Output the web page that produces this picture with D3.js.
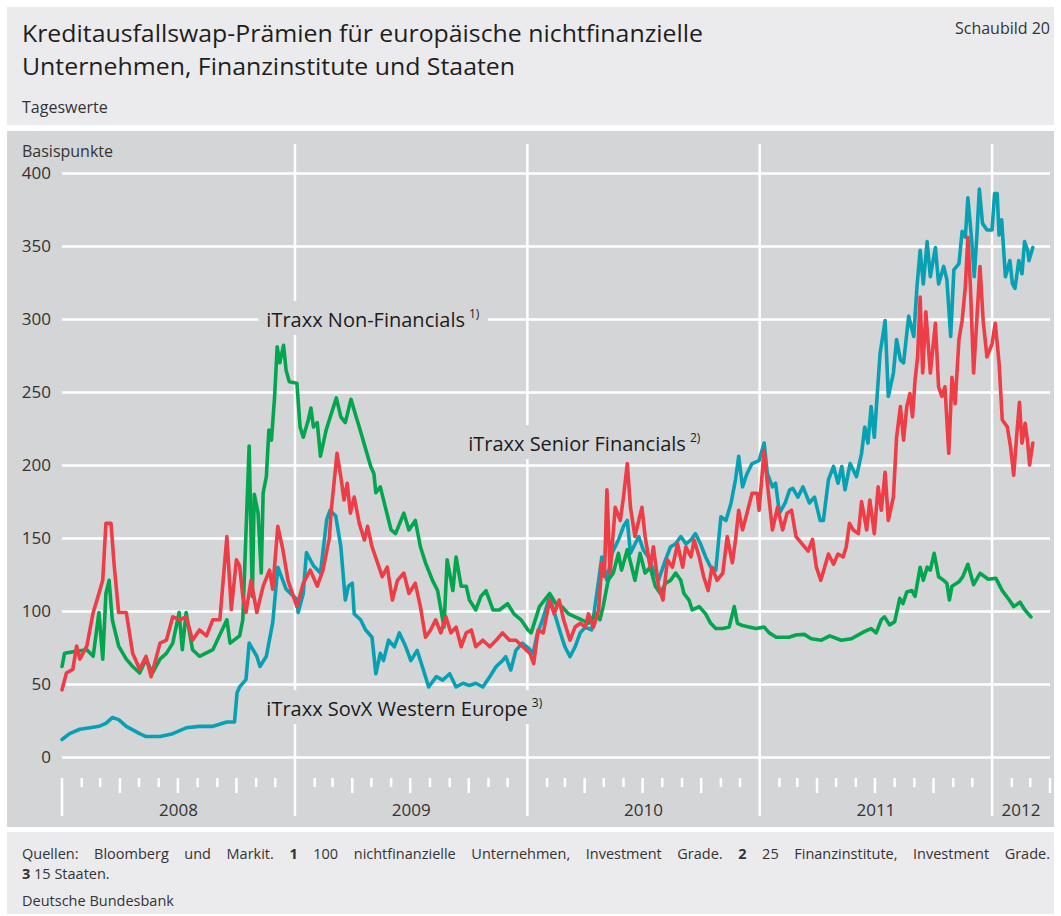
<!DOCTYPE html>
<html>
<head>
<meta charset="utf-8">
<script src="https://cdn.jsdelivr.net/npm/d3@7"></script>
<style>
  body { margin: 0; background: #fff; }
  text { font-family: "Open Sans", "Noto Sans", sans-serif; }
</style>
</head>
<body>
<div id="chart"></div>
<script>
// iTraxx SovX Western Europe (Basispunkte)
const sovx = [
  ["2008-01-01", 12], ["2008-01-13", 16], ["2008-01-29", 19], ["2008-02-14", 20], ["2008-02-28", 21],
  ["2008-03-10", 23], ["2008-03-20", 27], ["2008-03-30", 25.6], ["2008-04-11", 21], ["2008-05-02", 16],
  ["2008-05-12", 14], ["2008-06-03", 14], ["2008-06-23", 16], ["2008-07-14", 20], ["2008-08-04", 21],
  ["2008-08-25", 21], ["2008-09-16", 24], ["2008-09-28", 24], ["2008-10-02", 44], ["2008-10-06", 48],
  ["2008-10-16", 53], ["2008-10-21", 78], ["2008-11-02", 69], ["2008-11-07", 62], ["2008-11-17", 69],
  ["2008-11-27", 92], ["2008-12-05", 130], ["2008-12-18", 115], ["2009-01-04", 108], ["2009-01-06", 99],
  ["2009-01-14", 112], ["2009-01-19", 140], ["2009-01-30", 131], ["2009-02-10", 126], ["2009-02-20", 163],
  ["2009-02-25", 169], ["2009-03-06", 165], ["2009-03-14", 144], ["2009-03-21", 107.5], ["2009-03-26", 117],
  ["2009-04-01", 119], ["2009-04-04", 98], ["2009-04-14", 94], ["2009-04-22", 87], ["2009-05-02", 82],
  ["2009-05-08", 57], ["2009-05-15", 71], ["2009-05-20", 66], ["2009-05-28", 80], ["2009-06-06", 75.5],
  ["2009-06-14", 85], ["2009-06-24", 75.5], ["2009-07-02", 66], ["2009-07-12", 73], ["2009-07-20", 62],
  ["2009-07-30", 48], ["2009-08-11", 55], ["2009-08-21", 52.7], ["2009-09-01", 57], ["2009-09-11", 48],
  ["2009-09-22", 50.5], ["2009-10-02", 49], ["2009-10-12", 50.5], ["2009-10-23", 48], ["2009-11-03", 55],
  ["2009-11-13", 62], ["2009-11-23", 66], ["2009-11-28", 68.7], ["2009-12-06", 59.6], ["2009-12-14", 73],
  ["2009-12-24", 78], ["2010-01-04", 74], ["2010-01-10", 71], ["2010-01-17", 85], ["2010-01-25", 94],
  ["2010-02-05", 110], ["2010-02-13", 98], ["2010-02-22", 85], ["2010-03-01", 75.5], ["2010-03-09", 68.7],
  ["2010-03-17", 75.5], ["2010-03-25", 85], ["2010-04-02", 89], ["2010-04-12", 87], ["2010-04-23", 121],
  ["2010-04-28", 137], ["2010-05-06", 121], ["2010-05-14", 139.5], ["2010-05-24", 148.6], ["2010-06-01", 158],
  ["2010-06-07", 162], ["2010-06-12", 139.5], ["2010-06-17", 144], ["2010-06-25", 151], ["2010-07-02", 142],
  ["2010-07-10", 137], ["2010-07-18", 128], ["2010-07-26", 121], ["2010-08-06", 135], ["2010-08-14", 144],
  ["2010-08-22", 146], ["2010-08-30", 151], ["2010-09-07", 146], ["2010-09-15", 148.6], ["2010-09-22", 153],
  ["2010-09-30", 146], ["2010-10-08", 137], ["2010-10-16", 130], ["2010-10-24", 128], ["2010-11-01", 164.5],
  ["2010-11-09", 162], ["2010-11-17", 174], ["2010-11-24", 190], ["2010-11-29", 206], ["2010-12-05", 185],
  ["2010-12-12", 194], ["2010-12-20", 201], ["2010-12-31", 203], ["2011-01-08", 215], ["2011-01-13", 194],
  ["2011-01-21", 185], ["2011-01-26", 187.5], ["2011-02-01", 167], ["2011-02-10", 174], ["2011-02-17", 183],
  ["2011-02-22", 184], ["2011-03-02", 178], ["2011-03-10", 185], ["2011-03-20", 174], ["2011-03-28", 178],
  ["2011-04-06", 162], ["2011-04-11", 162], ["2011-04-19", 190], ["2011-04-27", 199], ["2011-05-04", 187.5],
  ["2011-05-10", 199], ["2011-05-15", 183], ["2011-05-23", 201], ["2011-06-02", 192], ["2011-06-10", 208],
  ["2011-06-15", 226], ["2011-06-20", 215], ["2011-06-25", 240], ["2011-06-30", 219], ["2011-07-09", 276],
  ["2011-07-17", 299], ["2011-07-22", 247], ["2011-07-30", 263], ["2011-08-04", 286], ["2011-08-10", 272],
  ["2011-08-15", 270], ["2011-08-23", 302], ["2011-08-31", 288], ["2011-09-05", 322], ["2011-09-10", 347],
  ["2011-09-15", 324], ["2011-09-21", 353], ["2011-09-26", 329], ["2011-10-04", 349], ["2011-10-09", 324],
  ["2011-10-17", 336], ["2011-10-22", 327], ["2011-10-28", 288], ["2011-11-02", 333.6], ["2011-11-10", 338],
  ["2011-11-15", 360], ["2011-11-20", 356], ["2011-11-24", 383], ["2011-11-30", 354], ["2011-12-04", 329],
  ["2011-12-08", 356], ["2011-12-12", 389], ["2011-12-17", 365.5], ["2011-12-24", 361], ["2012-01-01", 361],
  ["2012-01-05", 386], ["2012-01-09", 386], ["2012-01-12", 357.5], ["2012-01-16", 368], ["2012-01-22", 329],
  ["2012-01-29", 340], ["2012-02-02", 324], ["2012-02-06", 321], ["2012-02-12", 340], ["2012-02-17", 331],
  ["2012-02-21", 353], ["2012-02-26", 347], ["2012-02-28", 340], ["2012-03-05", 349]
];

// iTraxx Non-Financials
const nonFinancials = [
  ["2008-01-01", 62], ["2008-01-05", 71], ["2008-01-18", 72], ["2008-02-09", 73.5], ["2008-02-19", 69],
  ["2008-02-28", 99], ["2008-03-05", 67], ["2008-03-10", 112], ["2008-03-15", 121], ["2008-03-20", 94],
  ["2008-03-30", 76], ["2008-04-11", 67], ["2008-04-21", 62], ["2008-05-02", 57.5], ["2008-05-12", 67],
  ["2008-05-22", 57.5], ["2008-06-03", 67], ["2008-06-13", 71], ["2008-06-23", 78], ["2008-07-03", 99],
  ["2008-07-08", 73.5], ["2008-07-14", 99], ["2008-07-24", 73.5], ["2008-08-04", 69], ["2008-08-25", 73.5],
  ["2008-09-16", 94], ["2008-09-21", 78], ["2008-10-06", 83], ["2008-10-11", 94], ["2008-10-21", 213],
  ["2008-10-26", 110], ["2008-10-29", 180], ["2008-11-04", 167], ["2008-11-09", 126], ["2008-11-12", 181],
  ["2008-11-17", 192], ["2008-11-21", 224], ["2008-11-25", 217], ["2008-11-30", 247], ["2008-12-04", 281],
  ["2008-12-08", 270], ["2008-12-14", 282], ["2008-12-18", 265], ["2008-12-23", 257], ["2009-01-04", 256],
  ["2009-01-09", 226], ["2009-01-14", 219], ["2009-01-22", 231], ["2009-01-26", 239], ["2009-01-30", 226],
  ["2009-02-05", 229], ["2009-02-10", 206], ["2009-02-19", 224], ["2009-02-24", 231], ["2009-03-07", 246],
  ["2009-03-14", 233], ["2009-03-21", 229], ["2009-03-30", 245], ["2009-04-07", 233], ["2009-04-12", 226],
  ["2009-04-22", 211], ["2009-04-30", 199], ["2009-05-05", 194], ["2009-05-08", 181], ["2009-05-15", 185],
  ["2009-05-23", 171], ["2009-06-01", 155.5], ["2009-06-08", 153], ["2009-06-21", 167], ["2009-06-29", 155.5],
  ["2009-07-09", 162], ["2009-07-17", 144], ["2009-07-25", 133], ["2009-08-05", 121], ["2009-08-13", 114],
  ["2009-08-23", 89], ["2009-08-28", 135], ["2009-09-06", 114], ["2009-09-11", 137], ["2009-09-19", 117],
  ["2009-09-27", 117], ["2009-10-02", 107.5], ["2009-10-12", 100.7], ["2009-10-20", 110], ["2009-10-28", 114],
  ["2009-11-08", 100.7], ["2009-11-18", 100.7], ["2009-12-01", 105], ["2009-12-11", 98], ["2009-12-22", 94],
  ["2010-01-02", 87], ["2010-01-07", 85], ["2010-01-20", 103], ["2010-02-05", 112], ["2010-02-15", 105],
  ["2010-02-24", 103], ["2010-03-07", 98], ["2010-03-17", 96], ["2010-03-27", 94], ["2010-04-07", 91.6],
  ["2010-04-18", 98], ["2010-04-25", 94], ["2010-04-30", 103], ["2010-05-08", 121], ["2010-05-16", 126],
  ["2010-05-24", 139.5], ["2010-05-29", 128], ["2010-06-07", 142], ["2010-06-14", 130], ["2010-06-19", 121],
  ["2010-06-27", 139.5], ["2010-07-05", 126], ["2010-07-13", 130], ["2010-07-21", 117], ["2010-07-29", 112],
  ["2010-08-06", 119], ["2010-08-14", 121], ["2010-08-22", 126], ["2010-08-30", 121], ["2010-09-04", 112],
  ["2010-09-12", 107.5], ["2010-09-17", 100.7], ["2010-09-28", 103], ["2010-10-08", 98], ["2010-10-16", 91.6],
  ["2010-10-24", 88], ["2010-11-04", 88], ["2010-11-14", 89], ["2010-11-22", 103], ["2010-11-27", 91.6],
  ["2010-12-05", 90], ["2010-12-15", 89], ["2010-12-26", 88], ["2011-01-08", 89], ["2011-01-16", 85],
  ["2011-01-27", 82], ["2011-02-06", 82], ["2011-02-16", 82], ["2011-02-27", 83.6], ["2011-03-12", 84],
  ["2011-03-23", 81], ["2011-04-08", 80], ["2011-04-21", 83], ["2011-05-09", 80], ["2011-05-25", 81],
  ["2011-06-05", 83.6], ["2011-06-15", 86], ["2011-06-25", 88], ["2011-07-03", 85], ["2011-07-11", 94],
  ["2011-07-16", 96], ["2011-07-24", 90.5], ["2011-08-01", 92.7], ["2011-08-09", 108.7], ["2011-08-14", 105],
  ["2011-08-20", 113], ["2011-08-28", 114], ["2011-09-02", 110], ["2011-09-10", 130], ["2011-09-15", 121],
  ["2011-09-21", 130], ["2011-09-26", 128], ["2011-10-02", 139.5], ["2011-10-09", 123.5], ["2011-10-17", 121],
  ["2011-10-22", 119], ["2011-10-26", 107.5], ["2011-10-30", 117], ["2011-11-10", 120], ["2011-11-16", 123.5],
  ["2011-11-24", 132], ["2011-12-03", 118], ["2011-12-13", 125.8], ["2011-12-26", 121.7], ["2012-01-07", 122.4],
  ["2012-01-17", 114], ["2012-01-28", 107.5], ["2012-02-04", 103], ["2012-02-14", 106], ["2012-02-21", 101],
  ["2012-03-02", 96]
];

// iTraxx Senior Financials
const seniorFinancials = [
  ["2008-01-01", 46], ["2008-01-08", 57.5], ["2008-01-18", 60], ["2008-01-24", 76], ["2008-01-29", 67],
  ["2008-02-09", 76], ["2008-02-19", 99], ["2008-02-28", 112], ["2008-03-05", 121], ["2008-03-10", 160],
  ["2008-03-18", 160], ["2008-03-23", 131], ["2008-03-30", 99], ["2008-04-11", 99], ["2008-04-21", 71],
  ["2008-05-02", 60], ["2008-05-12", 69], ["2008-05-20", 55], ["2008-06-03", 78], ["2008-06-13", 80],
  ["2008-06-23", 96], ["2008-07-04", 94], ["2008-07-14", 96], ["2008-07-24", 80], ["2008-08-04", 87],
  ["2008-08-15", 83], ["2008-08-25", 94], ["2008-09-05", 94], ["2008-09-16", 151], ["2008-09-23", 101],
  ["2008-10-01", 135], ["2008-10-06", 131], ["2008-10-11", 110], ["2008-10-16", 99], ["2008-10-24", 121],
  ["2008-11-02", 99], ["2008-11-12", 117], ["2008-11-22", 128], ["2008-11-27", 115], ["2008-12-05", 158],
  ["2008-12-13", 142], ["2008-12-21", 121], ["2009-01-04", 103], ["2009-01-14", 119], ["2009-01-25", 128],
  ["2009-02-05", 117], ["2009-02-14", 128], ["2009-02-24", 150], ["2009-02-27", 169], ["2009-03-08", 208],
  ["2009-03-14", 192], ["2009-03-19", 176], ["2009-03-24", 187.5], ["2009-03-29", 167], ["2009-04-04", 178],
  ["2009-04-12", 160], ["2009-04-20", 148.6], ["2009-04-25", 158], ["2009-05-02", 144], ["2009-05-13", 130],
  ["2009-05-18", 123.5], ["2009-05-26", 130], ["2009-06-03", 107.5], ["2009-06-11", 121], ["2009-06-21", 126],
  ["2009-06-29", 112], ["2009-07-09", 119], ["2009-07-17", 103], ["2009-07-25", 82], ["2009-08-02", 87],
  ["2009-08-10", 94], ["2009-08-18", 85], ["2009-08-26", 96], ["2009-09-03", 85], ["2009-09-11", 89],
  ["2009-09-19", 75.5], ["2009-09-27", 85], ["2009-10-05", 87], ["2009-10-12", 75.5], ["2009-10-23", 80],
  ["2009-11-03", 75.5], ["2009-11-13", 80], ["2009-11-23", 85], ["2009-12-04", 80], ["2009-12-14", 80],
  ["2009-12-25", 75.5], ["2010-01-05", 71], ["2010-01-11", 64], ["2010-01-18", 87], ["2010-01-26", 85],
  ["2010-02-05", 107.5], ["2010-02-12", 98], ["2010-02-20", 107.5], ["2010-02-27", 94], ["2010-03-09", 80],
  ["2010-03-17", 89], ["2010-03-25", 91.6], ["2010-04-02", 89], ["2010-04-07", 98], ["2010-04-15", 89],
  ["2010-04-23", 100.7], ["2010-04-28", 133], ["2010-05-02", 123.5], ["2010-05-06", 183], ["2010-05-11", 126],
  ["2010-05-19", 171], ["2010-05-27", 162], ["2010-06-01", 178], ["2010-06-07", 201], ["2010-06-12", 171],
  ["2010-06-19", 151], ["2010-06-25", 162], ["2010-06-30", 171], ["2010-07-05", 151], ["2010-07-13", 130],
  ["2010-07-18", 144], ["2010-07-26", 117], ["2010-08-02", 107.5], ["2010-08-09", 135], ["2010-08-17", 130],
  ["2010-08-25", 146], ["2010-09-02", 130], ["2010-09-07", 144], ["2010-09-15", 137], ["2010-09-20", 148.6],
  ["2010-09-28", 137], ["2010-10-05", 123.5], ["2010-10-12", 114], ["2010-10-18", 130], ["2010-10-26", 121],
  ["2010-11-04", 126], ["2010-11-11", 151], ["2010-11-19", 133], ["2010-11-24", 148.6], ["2010-11-29", 169],
  ["2010-12-05", 155.5], ["2010-12-12", 167], ["2010-12-20", 180.6], ["2010-12-28", 180.6], ["2010-12-31", 169],
  ["2011-01-08", 210], ["2011-01-13", 187.5], ["2011-01-21", 155.5], ["2011-01-29", 171], ["2011-02-06", 155.5],
  ["2011-02-13", 167], ["2011-02-20", 169], ["2011-02-27", 151], ["2011-03-18", 141], ["2011-03-25", 149],
  ["2011-03-31", 130], ["2011-04-07", 121], ["2011-04-13", 130], ["2011-04-19", 139], ["2011-04-27", 132],
  ["2011-05-04", 139], ["2011-05-12", 137], ["2011-05-17", 144], ["2011-05-22", 160], ["2011-05-28", 155.5],
  ["2011-06-05", 153], ["2011-06-10", 175], ["2011-06-18", 155.5], ["2011-06-23", 176], ["2011-06-30", 153],
  ["2011-07-06", 185], ["2011-07-11", 169], ["2011-07-17", 195], ["2011-07-22", 162], ["2011-07-30", 178],
  ["2011-08-04", 219], ["2011-08-10", 240], ["2011-08-15", 217], ["2011-08-20", 240], ["2011-08-25", 249],
  ["2011-08-29", 233], ["2011-09-02", 258], ["2011-09-06", 274], ["2011-09-10", 315], ["2011-09-14", 263],
  ["2011-09-19", 305], ["2011-09-26", 263], ["2011-10-04", 297], ["2011-10-09", 253.6], ["2011-10-14", 247],
  ["2011-10-19", 253.6], ["2011-10-25", 208], ["2011-10-30", 260], ["2011-11-04", 242], ["2011-11-10", 286],
  ["2011-11-15", 299], ["2011-11-20", 322], ["2011-11-24", 356], ["2011-11-28", 322], ["2011-12-03", 263],
  ["2011-12-08", 299], ["2011-12-13", 336], ["2011-12-18", 299], ["2011-12-24", 274], ["2012-01-01", 283],
  ["2012-01-06", 297], ["2012-01-12", 270], ["2012-01-17", 231], ["2012-01-25", 226], ["2012-01-30", 212.5],
  ["2012-02-04", 193], ["2012-02-09", 222], ["2012-02-13", 243], ["2012-02-17", 215], ["2012-02-22", 228.5],
  ["2012-02-26", 215], ["2012-02-29", 200], ["2012-03-05", 215]
];

const Y_TICKS = [0, 50, 100, 150, 200, 250, 300, 350, 400];
const X_START = "2008-01-01", X_END = "2012-04-01";

const COLORS = { sovx: "#08a1b3", nonFin: "#02a64f", senior: "#ee3d47" };

const W = 1061, H = 916;
const PLOT_LEFT = 62, PLOT_RIGHT = 1050, PLOT_TOP = 173, PLOT_BOTTOM = 757;
const TICK_TOP = 778;
const PANEL_GREY = "#d4d5d7", LIGHT_GREY = "#ebebed";

const parseDate = d3.timeParse("%Y-%m-%d");
const toPoints = arr => arr.map(d => ({ date: parseDate(d[0]), value: d[1] }));

const svg = d3.select("#chart").append("svg")
  .attr("width", W)
  .attr("height", H);

// background panels
svg.append("rect").attr("x", 7).attr("y", 7).attr("width", 1047).attr("height", 118).attr("fill", LIGHT_GREY);
svg.append("rect").attr("x", 7).attr("y", 131).attr("width", 1047).attr("height", 696).attr("fill", PANEL_GREY);
svg.append("rect").attr("x", 7).attr("y", 832).attr("width", 1047).attr("height", 82).attr("fill", LIGHT_GREY);

// header
svg.append("text").attr("x", 22).attr("y", 42)
  .attr("font-size", 23).attr("fill", "#1e1e1e")
  .attr("textLength", 681).attr("lengthAdjust", "spacingAndGlyphs")
  .text("Kreditausfallswap-Prämien für europäische nichtfinanzielle");
svg.append("text").attr("x", 22).attr("y", 75)
  .attr("font-size", 23).attr("fill", "#1e1e1e")
  .attr("textLength", 493).attr("lengthAdjust", "spacingAndGlyphs")
  .text("Unternehmen, Finanzinstitute und Staaten");
svg.append("text").attr("x", 1050).attr("y", 34)
  .attr("font-size", 16).attr("fill", "#333").attr("text-anchor", "end")
  .text("Schaubild 20");
svg.append("text").attr("x", 22).attr("y", 113)
  .attr("font-size", 16).attr("fill", "#333")
  .text("Tageswerte");

// scales
const x = d3.scaleTime()
  .domain([parseDate(X_START), parseDate(X_END)])
  .range([PLOT_LEFT, PLOT_RIGHT]);
const y = d3.scaleLinear()
  .domain([0, 400])
  .range([PLOT_BOTTOM, PLOT_TOP]);

svg.append("text").attr("x", 22).attr("y", 157)
  .attr("font-size", 16).attr("fill", "#333")
  .text("Basispunkte");

// horizontal grid + y labels
svg.append("g")
  .attr("transform", "translate(" + PLOT_LEFT + ",0)")
  .call(d3.axisLeft(y).tickValues(Y_TICKS).tickSize(-(PLOT_RIGHT - PLOT_LEFT)).tickPadding(11))
  .call(g => g.select(".domain").remove())
  .call(g => g.selectAll(".tick line").attr("stroke", "#fff").attr("stroke-width", 2.5))
  .call(g => g.selectAll(".tick text")
    .attr("font-size", 17).attr("fill", "#333")
    .attr("font-family", "\"Open Sans\", sans-serif"));

// year separators
const years = d3.timeYear.range(x.domain()[0], x.domain()[1]);
svg.append("g").selectAll("line")
  .data(years)
  .join("line")
  .attr("x1", d => x(d)).attr("x2", d => x(d))
  .attr("y1", (d, i) => i === 0 ? TICK_TOP : 144)
  .attr("y2", 816)
  .attr("stroke", "#fff").attr("stroke-width", 2.5);

// month ticks
const months = d3.timeMonth.range(x.domain()[0], d3.timeDay.offset(x.domain()[1], 1))
  .filter(d => d.getMonth() !== 0);
svg.append("g").selectAll("line")
  .data(months)
  .join("line")
  .attr("x1", d => x(d)).attr("x2", d => x(d))
  .attr("y1", TICK_TOP)
  .attr("y2", d => TICK_TOP + (d.getMonth() % 3 === 0 ? 15 : 9))
  .attr("stroke", "#fff").attr("stroke-width", 2.5);

// year labels
svg.append("g").selectAll("text")
  .data(years)
  .join("text")
  .attr("x", d => {
    const end = d3.min([d3.timeYear.offset(d, 1), x.domain()[1]]);
    return (x(d) + x(end)) / 2;
  })
  .attr("y", 816)
  .attr("text-anchor", "middle")
  .attr("font-size", 17).attr("fill", "#333")
  .text(d => d.getFullYear());

// series lines
const line = d3.line()
  .x(d => x(d.date))
  .y(d => y(d.value));

const series = [
  { key: "sovx", data: toPoints(sovx) },
  { key: "nonFin", data: toPoints(nonFinancials) },
  { key: "senior", data: toPoints(seniorFinancials) }
];

svg.append("g").selectAll("path")
  .data(series)
  .join("path")
  .attr("d", d => line(d.data))
  .attr("fill", "none")
  .attr("stroke", d => COLORS[d.key])
  .attr("stroke-width", 3.6)
  .attr("stroke-linejoin", "round")
  .attr("stroke-linecap", "round");

// series labels, with a panel-coloured box that hides the grid behind them
const labels = [
  { name: "iTraxx Non-Financials", note: "1)", date: "2008-11-17", value: 294.5 },
  { name: "iTraxx Senior Financials", note: "2)", date: "2009-09-30", value: 209.5 },
  { name: "iTraxx SovX Western Europe", note: "3)", date: "2008-11-17", value: 28 }
];

labels.forEach(function(l) {
  const g = svg.append("g");
  const t = g.append("text")
    .attr("x", x(parseDate(l.date)))
    .attr("y", y(l.value))
    .attr("font-size", 20)
    .attr("fill", "#1c1c1c");
  t.append("tspan").text(l.name);
  t.append("tspan").attr("dx", 4).attr("dy", -9).attr("font-size", 12).text(l.note);
  const b = t.node().getBBox();
  g.insert("rect", "text")
    .attr("x", b.x - 8).attr("y", b.y - 4)
    .attr("width", b.width + 16).attr("height", b.height + 6)
    .attr("fill", PANEL_GREY);
});

// footer
const footLines = [
  { y: 859, parts: [["Quellen: Bloomberg und Markit. ", 400], ["1", 700], [" 100 nichtfinanzielle Unternehmen, Investment Grade. ", 400], ["2", 700], [" 25 Finanzinstitute, Investment Grade.", 400]], justify: true },
  { y: 879, parts: [["3", 700], [" 15 Staaten.", 400]], justify: false },
  { y: 906, parts: [["Deutsche Bundesbank", 400]], justify: false }
];

footLines.forEach(function(fl) {
  const t = svg.append("text")
    .attr("x", 22).attr("y", fl.y)
    .attr("font-size", 14.5).attr("fill", "#333")
    .style("white-space", "pre");
  fl.parts.forEach(p => t.append("tspan").attr("font-weight", p[1]).text(p[0]));
  if (fl.justify) {
    const natural = t.node().getComputedTextLength();
    const full = fl.parts.map(p => p[0]).join("");
    const spaces = (full.match(/ /g) || []).length;
    t.attr("word-spacing", Math.max(0, (1050 - 22 - natural) / spaces));
  }
});
</script>
</body>
</html>
